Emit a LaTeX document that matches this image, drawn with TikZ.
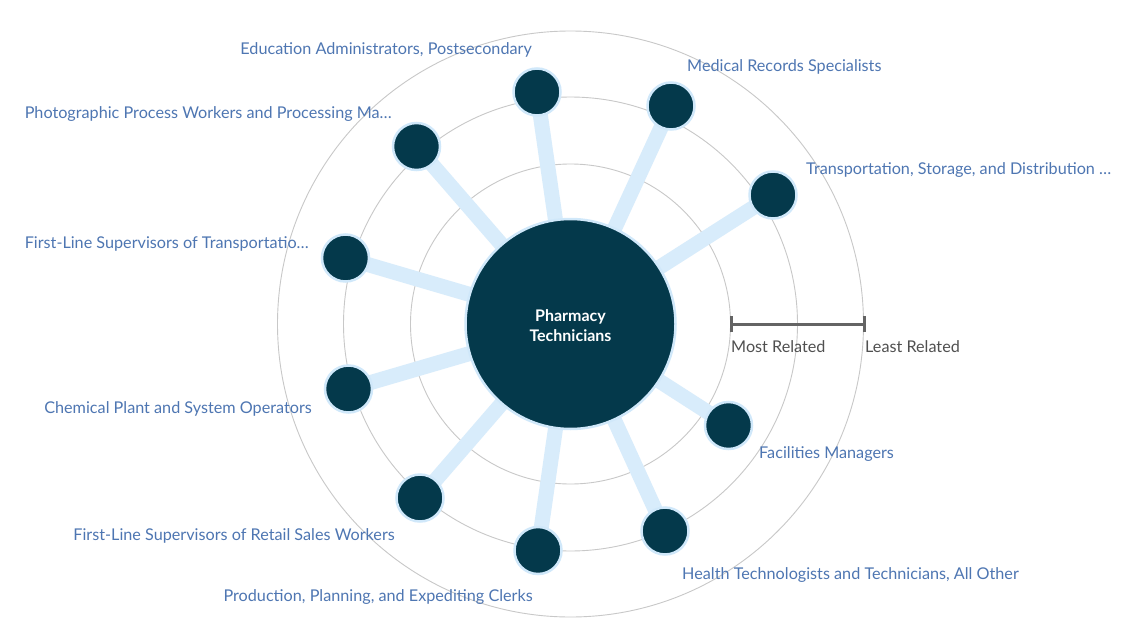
\documentclass[tikz,border=0pt]{standalone}
\usepackage{fontspec}
\setmainfont{Lato}
\definecolor{nodedark}{RGB}{4,57,75}
\definecolor{halo}{RGB}{208,232,250}
\definecolor{spoke}{RGB}{216,236,251}
\definecolor{ringgray}{RGB}{200,200,200}
\definecolor{labelblue}{RGB}{78,118,178}
\definecolor{scalegray}{RGB}{100,100,100}
\definecolor{scaletext}{RGB}{80,80,80}
\begin{document}
\begin{tikzpicture}[x=1pt,y=-1pt,
  ring/.style={draw=ringgray,line width=0.9pt},
  hub/.style={circle,fill=nodedark,draw=halo,line width=2.5pt,minimum size=210pt,inner sep=0pt},
  hubtxt/.style={text=white,font=\fontsize{16}{20}\selectfont\bfseries,align=center,inner sep=0pt},
  leaf/.style={circle,fill=nodedark,draw=halo,line width=2.5pt,minimum size=47pt,inner sep=0pt},
  spokeline/.style={draw=spoke,line width=15pt},
  lbl/.style={text=labelblue,font=\fontsize{16.2}{18}\selectfont,inner sep=0pt},
  scl/.style={text=scaletext,font=\fontsize{16.2}{18}\selectfont,inner sep=0pt,anchor=base west}
]
\useasboundingbox (0,0) rectangle (1127,629);
\fill[white] (0,0) rectangle (1127,629);
\coordinate (c) at (570.5,324);
\draw[ring] (c) circle (160);
\draw[ring] (c) circle (227);
\draw[ring] (c) circle (293);

% leaves positions
\coordinate (p1) at (537,92);
\coordinate (p2) at (671,106);
\coordinate (p3) at (773,195);
\coordinate (p4) at (416.5,146.5);
\coordinate (p5) at (345.5,258);
\coordinate (p6) at (348.5,389);
\coordinate (p7) at (420,498);
\coordinate (p8) at (538,550.5);
\coordinate (p9) at (665,531);
\coordinate (p10) at (728.5,425.5);

\foreach \i in {1,...,10} {\draw[spokeline] (c) -- (p\i);}

\node[hub] (hub) at (c) {};
\node[hubtxt] (hubtext) at ([yshift=-2]c) {Pharmacy\\Technicians};
\node[leaf] (n1) at (p1) {};
\node[leaf] (n2) at (p2) {};
\node[leaf] (n3) at (p3) {};
\node[leaf] (n4) at (p4) {};
\node[leaf] (n5) at (p5) {};
\node[leaf] (n6) at (p6) {};
\node[leaf] (n7) at (p7) {};
\node[leaf] (n8) at (p8) {};
\node[leaf] (n9) at (p9) {};
\node[leaf] (n10) at (p10) {};

\node[lbl,anchor=base east] (l1) at (532,54) {Education Administrators, Postsecondary};
\node[lbl,anchor=base west] (l2) at (687,71) {Medical Records Specialists};
\node[lbl,anchor=base west] (l3) at (806,174) {Transportation, Storage, and Distribution \dots};
\node[lbl,anchor=base east] (l4) at (392,118) {Photographic Process Workers and Processing Ma\dots};
\node[lbl,anchor=base east] (l5) at (309,248) {First-Line Supervisors of Transportatio\dots};
\node[lbl,anchor=base east] (l6) at (312,413) {Chemical Plant and System Operators};
\node[lbl,anchor=base east] (l7) at (395,540) {First-Line Supervisors of Retail Sales Workers};
\node[lbl,anchor=base east] (l8) at (533,601) {Production, Planning, and Expediting Clerks};
\node[lbl,anchor=base west] (l9) at (682,579) {Health Technologists and Technicians, All Other};
\node[lbl,anchor=base west] (l10) at (759,458) {Facilities Managers};

% scale bar
\coordinate (s1) at (731,324);
\coordinate (s2) at (864,324);
\draw[scalegray,line width=3pt] (s1) -- (s2);
\draw[scalegray,line width=3pt] ([yshift=-8]s1) -- ([yshift=8]s1);
\draw[scalegray,line width=3pt] ([yshift=-8]s2) -- ([yshift=8]s2);
\node[scl] (most) at (731,352) {Most Related};
\node[scl] (least) at (865,352) {Least Related};
\end{tikzpicture}
\end{document}
